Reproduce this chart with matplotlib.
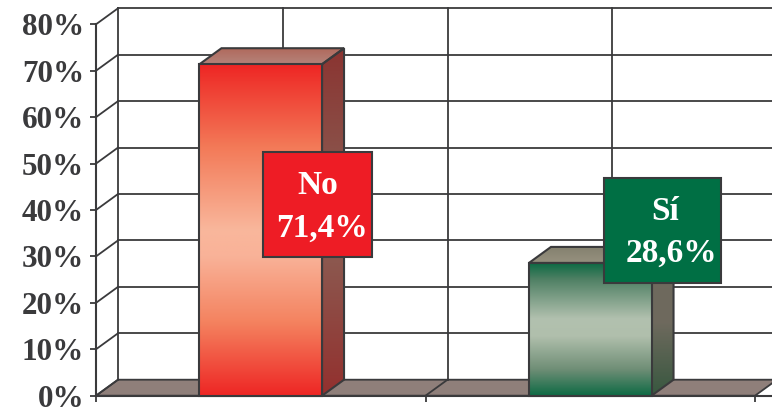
import numpy as np
import matplotlib
matplotlib.use("Agg")
import matplotlib.pyplot as plt
from matplotlib.colors import LinearSegmentedColormap
from matplotlib.patches import Polygon, Rectangle
from matplotlib.transforms import ScaledTranslation

categories = ["No", "Sí"]
values = [71.4, 28.6]
value_labels = ["71,4%", "28,6%"]
y_ticks = [0, 10, 20, 30, 40, 50, 60, 70, 80]
y_tick_labels = ["0%", "10%", "20%", "30%", "40%", "50%", "60%", "70%", "80%"]

W, H = 772, 409
dark = "#3a3a3c"
serif = "Liberation Serif"

face_cols = [[(0, "#ee2624"), (0.25, "#f37a58"), (0.5, "#f9b79c"), (0.58, "#f9b298"), (0.78, "#f4825f"), (1, "#ee2624")],
             [(0, "#0d6a44"), (0.12, "#4f8064"), (0.42, "#b2c1af"), (0.55, "#b0bfac"), (0.8, "#6f8e76"), (1, "#0d6a44")]]
side_cols = [["#8a3431", "#8a6358", "#93302e"], ["#6d685c", "#6f6a5e", "#37573f"]]
top_cols = [["#b0695c", "#b5837a"], ["#85816f", "#96917f"]]
box_cols = ["#ee1c25", "#006f44"]
# label boxes in pixels: left, top, right, bottom
boxes = [(263, 152, 372, 257), (604, 178, 721, 283)]
name_pos = [(318, 182.5), (665, 207.5)]
val_pos = [(322, 224.5), (671, 249.5)]

fig = plt.figure(figsize=(W / 100, H / 100), dpi=100, facecolor="white")
left, right, top, bottom = 96, 772, 24.3, 395.7
ax = fig.add_axes([left / W, 1 - bottom / H, (right - left) / W, (bottom - top) / H])
cat_px = 329.5
ax.set_xlim(0, (right - left) / cat_px)
ax.set_ylim(0, 80)
ax.patch.set_alpha(0)

# depth of the fake 3d box in data units
dx = 22 / cat_px
dy = 16 * 80 / (bottom - top)
bar_w = 0.372
lw = 1.3

for s in ["top", "right"]:
    ax.spines[s].set_visible(False)
for s in ["left", "bottom"]:
    ax.spines[s].set_color(dark)
    ax.spines[s].set_linewidth(1.5)
    ax.spines[s].set_zorder(2)

ax.set_yticks(y_ticks)
ax.set_yticklabels(y_tick_labels, fontfamily=serif, fontweight="bold", fontsize=22.4, color=dark)
for lab in ax.get_yticklabels():
    lab.set_verticalalignment("center_baseline")
    lab.set_transform(lab.get_transform() + ScaledTranslation(0, -1 / 100, fig.dpi_scale_trans))
ax.set_xticks([0, 1, 2])
ax.set_xticklabels([])
ax.tick_params(axis="both", length=4.5, width=1.3, color=dark)
ax.tick_params(axis="y", pad=4)

# floor
ax.add_patch(Polygon([(0, 0), (dx, dy), (2 + dx, dy), (2, 0)], closed=True, fc="#8f7f7a",
                     ec=dark, lw=lw, zorder=1, clip_on=False))
ax.plot([1, 1 + dx], [0, dy], color=dark, lw=lw, zorder=1.1, clip_on=False)

# back wall grid
for t in y_ticks:
    ax.plot([0, dx], [t, t + dy], color=dark, lw=lw, zorder=1, clip_on=False)
    if t > 0:
        ax.plot([dx, 2 + dx], [t + dy, t + dy], color=dark, lw=lw, zorder=1, clip_on=False)
for k in [0, 0.5, 1, 1.5, 2]:
    ax.plot([k + dx, k + dx], [dy, 80 + dy], color=dark, lw=lw, zorder=1, clip_on=False)


def gradient(cols, poly, extent, z):
    # vertical gradient clipped to a polygon
    cmap = LinearSegmentedColormap.from_list("g", cols)
    g = np.linspace(0, 1, 256).reshape(-1, 1)
    im = ax.imshow(g, cmap=cmap, aspect="auto", extent=extent, origin="upper", zorder=z, clip_on=True)
    p = Polygon(poly, closed=True, fc="none", ec=dark, lw=1.5, zorder=z + 0.1, clip_on=False)
    ax.add_patch(p)
    im.set_clip_path(p)


for i, v in enumerate(values):
    x0 = i + 0.5 - bar_w / 2
    x1 = i + 0.5 + bar_w / 2
    gradient(side_cols[i], [(x1, 0), (x1 + dx, dy), (x1 + dx, v + dy), (x1, v)],
             (x1, x1 + dx, 0, v + dy), 3)
    gradient(top_cols[i], [(x0, v), (x0 + dx, v + dy), (x1 + dx, v + dy), (x1, v)],
             (x0, x1 + dx, v, v + dy), 3)
    gradient(face_cols[i], [(x0, 0), (x1, 0), (x1, v), (x0, v)], (x0, x1, 0, v), 4)

ax.set_xlim(0, (right - left) / cat_px)
ax.set_ylim(0, 80)

# label boxes, placed in figure pixels
for i, (l, t, r, b) in enumerate(boxes):
    fig.add_artist(Rectangle((l / W, 1 - b / H), (r - l) / W, (b - t) / H, transform=fig.transFigure,
                             fc=box_cols[i], ec=dark, lw=1.5, zorder=6))
    fig.text(name_pos[i][0] / W, 1 - name_pos[i][1] / H, categories[i], color="white", ha="center",
             va="center_baseline", fontfamily=serif, fontweight="bold", fontsize=24, zorder=7)
    fig.text(val_pos[i][0] / W, 1 - val_pos[i][1] / H, value_labels[i], color="white", ha="center",
             va="center_baseline", fontfamily=serif, fontweight="bold", fontsize=24, zorder=7)

fig.savefig("out.png", dpi=100)
